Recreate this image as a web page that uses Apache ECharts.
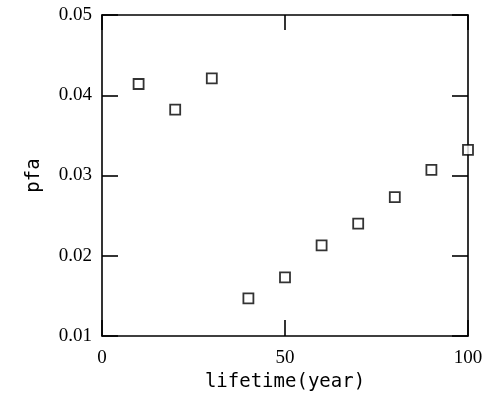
<!DOCTYPE html>
<html>
<head>
<meta charset="utf-8">
<script src="https://cdn.jsdelivr.net/npm/echarts@6/dist/echarts.min.js"></script>
<style>html,body{margin:0;padding:0;background:#fff;}#c{width:501px;height:397px;}</style>
</head>
<body>
<div id="c"></div>
<script>
const lifetime = [10, 20, 30, 40, 50, 60, 70, 80, 90, 100];
const pfa = [0.0414, 0.0382, 0.0421, 0.0147, 0.0173, 0.0213, 0.0240, 0.0273, 0.0307, 0.0332];
const xTicks = [0, 50, 100];
const yTicks = [0.01, 0.02, 0.03, 0.04, 0.05];

const chart = echarts.init(document.getElementById('c'), null, {renderer: 'canvas'});
const lineStyle = {color: '#000', width: 1.6};
const tickFont = {fontFamily: 'Liberation Serif', fontSize: 19, color: '#000'};
const nameFont = {fontFamily: 'DejaVu Sans Mono', fontSize: 19, color: '#000'};
const data = lifetime.map((x, i) => [x, pfa[i]]);

chart.setOption({
  animation: false,
  backgroundColor: '#fff',
  grid: {left: 102, right: 33, top: 15, bottom: 61, containLabel: false},
  xAxis: [
    {type: 'value', min: xTicks[0], max: xTicks[xTicks.length - 1], interval: 50, position: 'bottom',
     name: 'lifetime(year)', nameLocation: 'middle', nameGap: 35, nameTextStyle: nameFont,
     axisLine: {show: true, onZero: false, lineStyle: lineStyle},
     axisTick: {show: true, inside: true, length: 16, lineStyle: lineStyle},
     axisLabel: Object.assign({margin: 13, formatter: v => String(v)}, tickFont),
     splitLine: {show: false}},
    {type: 'value', min: xTicks[0], max: xTicks[xTicks.length - 1], interval: 50, position: 'top',
     axisLine: {show: true, onZero: false, lineStyle: lineStyle},
     axisTick: {show: true, inside: true, length: 15, lineStyle: lineStyle},
     axisLabel: {show: false}, splitLine: {show: false}}
  ],
  yAxis: [
    {type: 'value', min: yTicks[0], max: yTicks[yTicks.length - 1], interval: 0.01, position: 'left',
     name: 'pfa', nameLocation: 'middle', nameGap: 58, nameTextStyle: nameFont,
     axisLine: {show: true, onZero: false, lineStyle: lineStyle},
     axisTick: {show: true, inside: true, length: 16, lineStyle: lineStyle},
     axisLabel: Object.assign({margin: 10, formatter: v => v.toFixed(2)}, tickFont),
     splitLine: {show: false}},
    {type: 'value', min: yTicks[0], max: yTicks[yTicks.length - 1], interval: 0.01, position: 'right',
     axisLine: {show: true, onZero: false, lineStyle: lineStyle},
     axisTick: {show: true, inside: true, length: 16, lineStyle: lineStyle},
     axisLabel: {show: false}, splitLine: {show: false}}
  ],
  series: [{
    type: 'scatter', xAxisIndex: 0, yAxisIndex: 0, data: data,
    symbol: 'rect', symbolSize: 10,
    itemStyle: {color: '#fff', borderColor: '#000', borderWidth: 1.8}
  }]
});
</script>
</body>
</html>
